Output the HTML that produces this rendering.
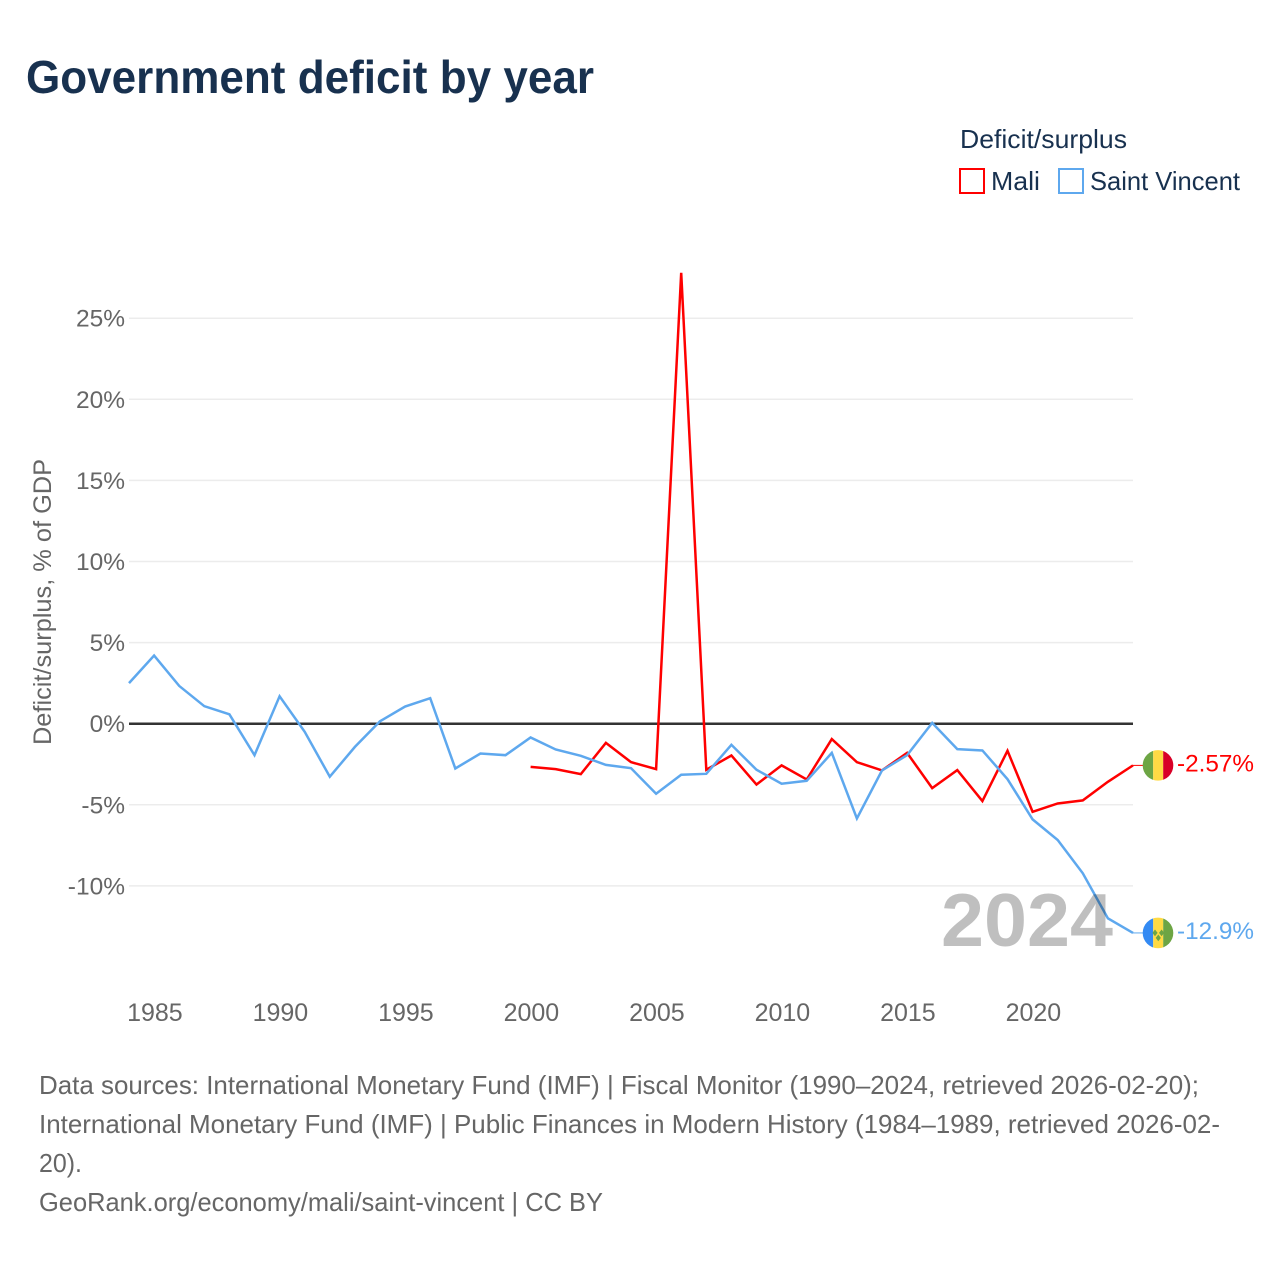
<!DOCTYPE html>
<html lang="en">
<head>
<meta charset="utf-8">
<title>Government deficit by year</title>
<style>
html,body{margin:0;padding:0;background:#fff;width:1280px;height:1280px;overflow:hidden}
svg{display:block;font-family:"Liberation Sans",Arial,sans-serif}
</style>
</head>
<body>
<svg id="chart" xmlns="http://www.w3.org/2000/svg" width="1280" height="1280" viewBox="0 0 1280 1280">
  <rect width="1280" height="1280" fill="#fff"/>
  <text x="26" y="93" font-size="46" font-weight="700" fill="#18314f" textLength="568" lengthAdjust="spacingAndGlyphs">Government deficit by year</text>

  <text x="960" y="148" font-size="26" fill="#18314f" textLength="167" lengthAdjust="spacingAndGlyphs">Deficit/surplus</text>
  <rect x="960" y="169" width="24" height="24" fill="none" stroke="#ff0000" stroke-width="2"/>
  <text x="991" y="190" font-size="26" fill="#18314f" textLength="49" lengthAdjust="spacingAndGlyphs">Mali</text>
  <rect x="1059" y="169" width="24" height="24" fill="none" stroke="#5ea8ee" stroke-width="2"/>
  <text x="1090" y="190" font-size="26" fill="#18314f" textLength="150" lengthAdjust="spacingAndGlyphs">Saint Vincent</text>

  <text transform="translate(51,745) rotate(-90)" font-size="25" fill="#666" textLength="286" lengthAdjust="spacingAndGlyphs">Deficit/surplus, % of GDP</text>

  <g id="grid"></g>
  <g id="yticks"></g>
  <g id="xticks"></g>
  <g id="series"></g>

  <text x="941" y="946" font-size="75" font-weight="700" fill="#000" fill-opacity="0.25" textLength="172" lengthAdjust="spacingAndGlyphs">2024</text>

  <defs>
    <clipPath id="flag-clip-mali"><circle id="clip-mali" cx="1158" cy="765" r="15.3"/></clipPath>
    <clipPath id="flag-clip-svg"><circle id="clip-svg" cx="1158" cy="933" r="15.3"/></clipPath>
  </defs>
  <g id="flag-mali">
    <g clip-path="url(#flag-clip-mali)">
      <rect x="1142" y="749" width="11.2" height="33" fill="#6da544"/>
      <rect x="1153.2" y="749" width="10" height="33" fill="#ffda44"/>
      <rect x="1163.2" y="749" width="11" height="33" fill="#d80027"/>
    </g>
  </g>
  <g id="flag-svg">
    <g clip-path="url(#flag-clip-svg)">
      <rect x="1142" y="917" width="11.2" height="33" fill="#338af3"/>
      <rect x="1153.2" y="917" width="10" height="33" fill="#ffda44"/>
      <rect x="1163.2" y="917" width="11" height="33" fill="#6da544"/>
    </g>
    <path d="M1155 929.5l2.6 3.4-2.6 3.4-2.6-3.4zM1161.6 929.5l2.6 3.4-2.6 3.4-2.6-3.4zM1158.3 934.5l2.6 3.4-2.6 3.4-2.6-3.4z" fill="#6da544"/>
  </g>
  <text id="label-mali" x="1177" y="771" font-size="24.5" fill="#ff0000" textLength="77" lengthAdjust="spacingAndGlyphs">-2.57%</text>
  <text id="label-svg" x="1177" y="939" font-size="24.5" fill="#5ea8ee" textLength="77" lengthAdjust="spacingAndGlyphs">-12.9%</text>

  <g font-size="26" fill="#666">
    <text x="39" y="1094" textLength="1160" lengthAdjust="spacingAndGlyphs">Data sources: International Monetary Fund (IMF) | Fiscal Monitor (1990–2024, retrieved 2026-02-20);</text>
    <text x="39" y="1133" textLength="1181" lengthAdjust="spacingAndGlyphs">International Monetary Fund (IMF) | Public Finances in Modern History (1984–1989, retrieved 2026-02-</text>
    <text x="39" y="1172" textLength="43" lengthAdjust="spacingAndGlyphs">20).</text>
    <text x="39" y="1211" textLength="564" lengthAdjust="spacingAndGlyphs">GeoRank.org/economy/mali/saint-vincent | CC BY</text>
  </g>
</svg>
<script>
const yTickValues = [25, 20, 15, 10, 5, 0, -5, -10];
const xTickYears = [1985, 1990, 1995, 2000, 2005, 2010, 2015, 2020];
const saintVincentYears = [1984,1985,1986,1987,1988,1989,1990,1991,1992,1993,1994,1995,1996,1997,1998,1999,2000,2001,2002,2003,2004,2005,2006,2007,2008,2009,2010,2011,2012,2013,2014,2015,2016,2017,2018,2019,2020,2021,2022,2023,2024];
const saintVincentValues = [2.5,4.2,2.33,1.08,0.58,-1.94,1.69,-0.5,-3.27,-1.43,0.15,1.06,1.57,-2.76,-1.84,-1.94,-0.85,-1.59,-1.98,-2.54,-2.74,-4.32,-3.15,-3.09,-1.3,-2.84,-3.7,-3.52,-1.8,-5.84,-2.88,-1.94,0.05,-1.57,-1.65,-3.42,-5.9,-7.17,-9.22,-12.0,-12.9];
const maliYears = [2000,2001,2002,2003,2004,2005,2006,2007,2008,2009,2010,2011,2012,2013,2014,2015,2016,2017,2018,2019,2020,2021,2022,2023,2024];
const maliValues = [-2.66,-2.8,-3.11,-1.18,-2.37,-2.8,27.8,-2.84,-1.96,-3.75,-2.57,-3.44,-0.95,-2.37,-2.88,-1.8,-3.97,-2.86,-4.77,-1.67,-5.43,-4.92,-4.73,-3.58,-2.57];

const NS = 'http://www.w3.org/2000/svg';
function xScale(year) { return 129 + (year - 1984) * 25.1; }
function yScale(v) { return 723.7 - v * 16.22; }
function make(tag, attrs, parent) {
  const el = document.createElementNS(NS, tag);
  for (const k in attrs) el.setAttribute(k, attrs[k]);
  parent.appendChild(el);
  return el;
}
const grid = document.getElementById('grid');
const yticks = document.getElementById('yticks');
const xticks = document.getElementById('xticks');
const series = document.getElementById('series');

yTickValues.forEach(function (v) {
  const isZero = v === 0;
  const line = make('line', {x1: 129, x2: 1133, y1: yScale(v), y2: yScale(v), stroke: '#ececec', 'stroke-width': 1.5}, grid);
  
  
  if (isZero) line.setAttribute('visibility', 'hidden');
  const t = make('text', {x: 125, y: yScale(v) + 8.5, 'text-anchor': 'end', 'font-size': 24.5, fill: '#666'}, yticks);
  
  
  t.textContent = v + '%';
});
xTickYears.forEach(function (year) {
  const t = make('text', {x: xScale(year) + 0.8, y: 1021, 'text-anchor': 'middle', 'font-size': 25, fill: '#666'}, xticks);
  
  
  t.textContent = year;
});

function pathFor(years, values) {
  return years.map(function (year, i) {
    return (i ? 'L' : 'M') + xScale(year).toFixed(2) + ' ' + yScale(values[i]).toFixed(2);
  }).join('');
}
const zeroLine = make('line', {x1: 129, x2: 1133, y1: yScale(0), y2: yScale(0), stroke: '#333', 'stroke-width': 2.5}, series);



const maliLine = make('path', {d: pathFor(maliYears, maliValues), fill: 'none', stroke: '#ff0000', 'stroke-width': 2.5, 'stroke-linejoin': 'miter'}, series);



const svLine = make('path', {d: pathFor(saintVincentYears, saintVincentValues), fill: 'none', stroke: '#5ea8ee', 'stroke-width': 2.5, 'stroke-linejoin': 'miter'}, series);



const maliEndY = yScale(maliValues[maliValues.length - 1]);
const svEndY = yScale(saintVincentValues[saintVincentValues.length - 1]);

const maliConn = make('line', {x1: xScale(2024), x2: 1144, y1: maliEndY, y2: maliEndY, stroke: '#ff0000', 'stroke-width': 1}, series);


const svConn = make('line', {x1: xScale(2024), x2: 1144, y1: svEndY, y2: svEndY, stroke: '#5ea8ee', 'stroke-width': 1}, series);



document.getElementById('flag-mali').setAttribute('transform', 'translate(0,' + (maliEndY - 765) + ')');
document.getElementById('clip-mali').setAttribute('cy', 765);
document.getElementById('flag-svg').setAttribute('transform', 'translate(0,' + (svEndY - 933) + ')');
document.getElementById('clip-svg').setAttribute('cy', 933);
document.getElementById('label-mali').setAttribute('y', maliEndY + 6);
document.getElementById('label-svg').setAttribute('y', svEndY + 6);
</script>
</body>
</html>
